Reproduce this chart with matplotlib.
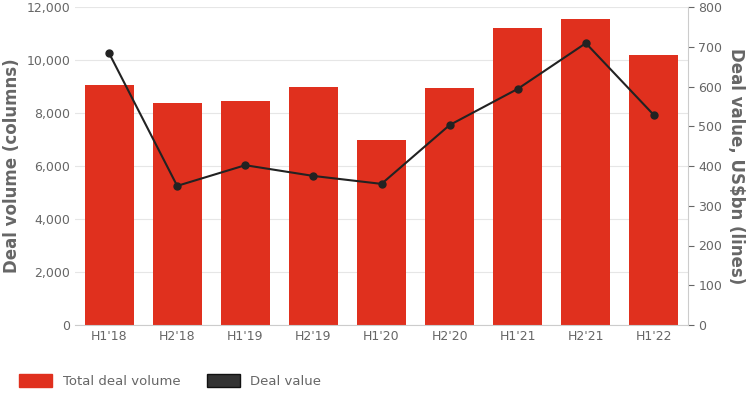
import matplotlib
matplotlib.use("Agg")
import matplotlib.pyplot as plt
from matplotlib.patches import Patch
from matplotlib.ticker import FuncFormatter

categories = ["H1'18", "H2'18", "H1'19", "H2'19", "H1'20", "H2'20", "H1'21", "H2'21", "H1'22"]
volume = [9050, 8380, 8450, 9000, 7000, 8950, 11200, 11550, 10200]
value = [684, 350, 402, 375, 355, 503, 594, 709, 528]

fig = plt.figure(figsize=(7.5, 4), dpi=100)
ax = fig.add_axes([75/750, 1-325/400, 613/750, 318/400])
x = range(len(categories))
ax.bar(x, volume, width=0.72, color="#e0301e", zorder=2)
ax.set_ylim(0, 12000)
ax.set_yticks(range(0, 12001, 2000))
ax.yaxis.set_major_formatter(FuncFormatter(lambda v, p: f"{int(v):,}"))
ax.set_xlim(-0.5, len(categories) - 0.5)
ax.set_xticks(list(x))
ax.set_xticklabels(categories)
ax.grid(axis="y", color="#e6e6e6", lw=0.8, zorder=0)
ax.set_axisbelow(True)
for s in ["top", "right", "left"]:
    ax.spines[s].set_visible(False)
ax.spines["bottom"].set_color("#cccccc")
ax.tick_params(colors="#666666", labelsize=9, length=0)
ax.set_ylabel("Deal volume (columns)", fontsize=12, fontweight="bold", color="#666666")

ax2 = ax.twinx()
ax2.plot(list(x), value, color="#222222", lw=1.5, marker="o", ms=5, zorder=3)
ax2.set_ylim(0, 800)
ax2.set_yticks(range(0, 801, 100))
for s in ["top", "left", "bottom"]:
    ax2.spines[s].set_visible(False)
ax2.spines["right"].set_color("#cccccc")
ax2.tick_params(colors="#666666", labelsize=9, length=4)
ax2.set_ylabel("Deal value, US$bn (lines)", fontsize=12, fontweight="bold", color="#666666", rotation=270, labelpad=16)

handles = [Patch(facecolor="#e0301e", edgecolor="#e0301e"), Patch(facecolor="#333333", edgecolor="#111111")]
fig.legend(handles, ["Total deal volume", "Deal value"], loc="lower left", bbox_to_anchor=(0.01, 0.0),
           ncol=2, frameon=False, fontsize=9.5, labelcolor="#666666", handlelength=2.5, handleheight=1.2)
fig.savefig("out.png", dpi=100)
